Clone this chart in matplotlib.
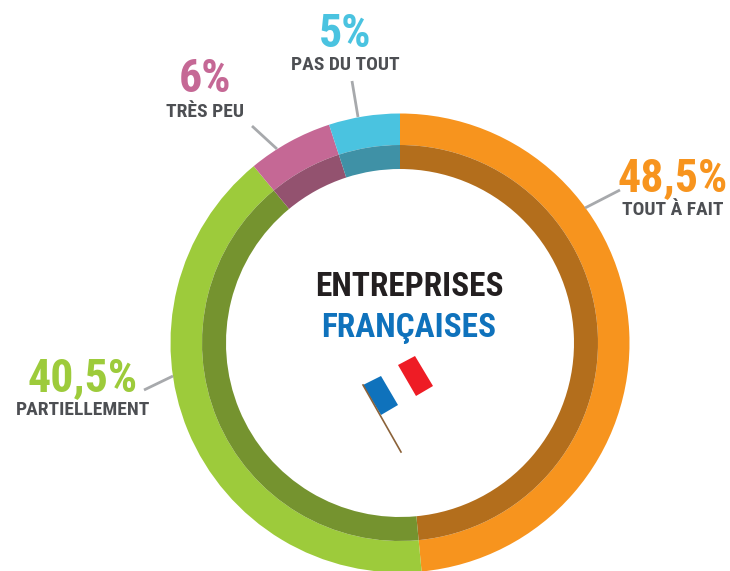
import matplotlib
matplotlib.use('Agg')
import matplotlib.pyplot as plt
from matplotlib.patches import Polygon

labels = ['TOUT À FAIT', 'PARTIELLEMENT', 'TRÈS PEU', 'PAS DU TOUT']
values = [48.5, 40.5, 6, 5]
value_labels = ['48,5%', '40,5%', '6%', '5%']
colors = ['#F7941E', '#9DCB3B', '#C56895', '#4AC3E0']
dark_colors = ['#B36E1C', '#75932F', '#93526F', '#3F91A6']

W, H = 730, 571
CX, CY = 400, 228
NARROW = 'Roboto Condensed'
GREY = '#4D4F53'

fig = plt.figure(figsize=(W / 100, H / 100), dpi=100)
ax = fig.add_axes([0, 0, 1, 1])

# outer ring, then the darker band just inside it
ax.pie(values, colors=colors, startangle=90, counterclock=False, center=(CX, CY),
       radius=229.5, wedgeprops={'width': 31.5, 'linewidth': 0})
ax.pie(values, colors=dark_colors, startangle=90, counterclock=False, center=(CX, CY),
       radius=198, wedgeprops={'width': 24, 'linewidth': 0})
ax.set_xlim(0, W)
ax.set_ylim(0, H)
ax.set_aspect('equal')
ax.axis('off')

# label anchors: (value x, value y, label x, label y), y measured from the top
anchors = [(673, 178, 673, 210), (83, 378, 83, 410), (205, 79, 205, 112), (345, 34, 345, 65)]
for lab, vlab, col, (vx, vy, lx, ly) in zip(labels, value_labels, colors, anchors):
    ax.text(vx, H - vy, vlab, color=col, fontsize=33, fontweight='bold', family=NARROW,
            ha='center', va='center')
    ax.text(lx, H - ly, lab, color=GREY, fontsize=14, fontweight='bold', family=NARROW,
            ha='center', va='center')

# leader lines
leaders = [((585, 208), (620, 190)), ((144, 390), (173, 376)),
           ((252, 126), (277, 149)), ((352, 81), (358, 117))]
for (x0, y0), (x1, y1) in leaders:
    ax.plot([x0, x1], [H - y0, H - y1], color='#A7A9AC', lw=2, solid_capstyle='butt')

ax.text(409, H - 287, 'ENTREPRISES', color='#231F20', fontsize=24, fontweight='bold',
        family=NARROW, ha='center', va='center')
ax.text(409, H - 328, 'FRANÇAISES', color='#0F72BC', fontsize=24, fontweight='bold',
        family=NARROW, ha='center', va='center')

# little flag on its pole
ax.add_patch(Polygon([(363, H - 385), (381, H - 376), (398, H - 405), (381, H - 415)],
                     color='#0F72BC', lw=0))
ax.add_patch(Polygon([(398, H - 365), (415, H - 356), (433, H - 386), (416, H - 396)],
                     color='#EE1C25', lw=0))
ax.plot([363, 401], [H - 385, H - 452], color='#8B6239', lw=1.2)

fig.savefig('out.png', dpi=100)
